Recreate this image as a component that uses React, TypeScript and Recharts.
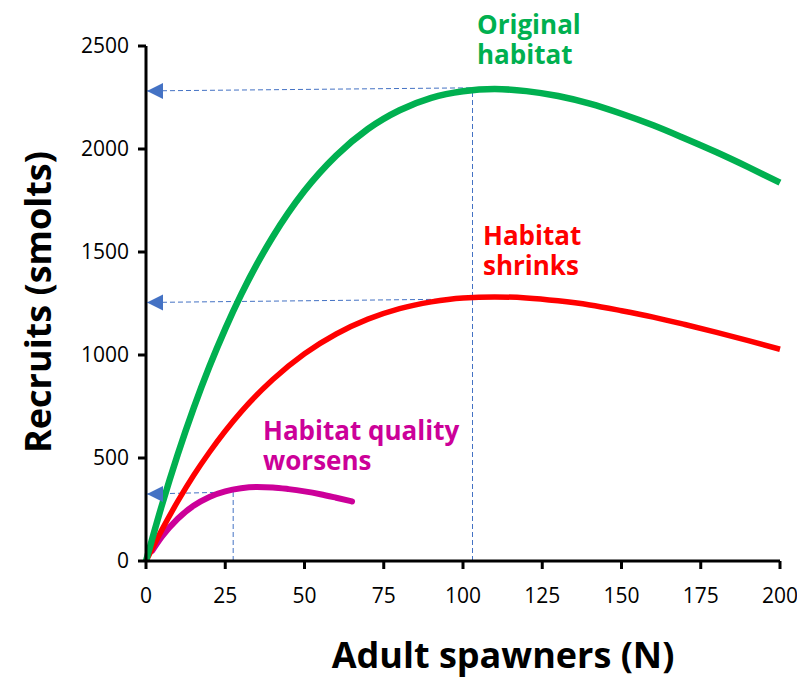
import { LineChart, Line, XAxis, YAxis, ReferenceLine, ReferenceDot, Label } from 'recharts'

// spawner counts (N) sampled along the curves
const spawners = [0, 5, 10, 15, 20, 25, 30, 40, 50, 60, 70, 80, 90, 100, 110, 120, 130, 140, 150, 160, 170, 180, 190, 200]
const originalRecruits = [0, 270, 517, 741, 944, 1127, 1293, 1574, 1797, 1968, 2097, 2188, 2248, 2280, 2291, 2281, 2257, 2220, 2171, 2115, 2051, 1984, 1912, 1837]
const shrinkRecruits = [0, 151, 289, 415, 528, 631, 724, 881, 1006, 1102, 1174, 1225, 1258, 1277, 1282, 1277, 1263, 1243, 1215, 1184, 1148, 1110, 1070, 1028]

const worseSpawners = [2, 5, 10, 15, 20, 25, 30, 35, 40, 45, 50, 55, 60, 65]
const worseRecruits = [51, 118, 205, 268, 311, 338, 353, 359, 357, 349, 338, 324, 307, 289]

const xTicks = [0, 25, 50, 75, 100, 125, 150, 175, 200]
const yTicks = [0, 500, 1000, 1500, 2000, 2500]

// read-off guides: [spawners at read point, recruits at axis, recruits at read point]
const guideOriginal = [103, 2282, 2297]
const guideShrink = [103, 1255, 1272]
const guideWorse = [27.5, 325, 335]

const GREEN = '#00B050'
const RED = '#FF0000'
const MAGENTA = '#CC0099'
const BLUE = '#4472C4'
const FONT = '"Open Sans", "Noto Sans", sans-serif'

const originalData = spawners.map((n, i) => ({ n, r: originalRecruits[i] }))
const shrinkData = spawners.map((n, i) => ({ n, r: shrinkRecruits[i] }))
const worseData = worseSpawners.map((n, i) => ({ n, r: worseRecruits[i] }))

const guides = [guideOriginal, guideShrink, guideWorse]

const Arrow = (p: any) => (
  <polygon
    points={`${p.cx + 1},${p.cy} ${p.cx + 17},${p.cy - 8} ${p.cx + 17},${p.cy + 8}`}
    fill={BLUE}
  />
)

const Note = ({ color, left, top, lines }: { color: string; left: number; top: number; lines: string[] }) => (
  <>
    {lines.map((t, i) => (
      <div
        key={t}
        style={{
          position: 'absolute',
          left,
          top: top + i * 30,
          height: 30,
          color,
          fontFamily: FONT,
          fontWeight: 700,
          fontSize: 26,
          lineHeight: '30px',
          whiteSpace: 'nowrap',
        }}
      >
        {t}
      </div>
    ))}
  </>
)

const axisStyle = { stroke: '#000', strokeWidth: 3 }
const tickStyle = { fill: '#000', fontSize: 21, fontFamily: FONT }

export default function App() {
  return (
    <div style={{ position: 'absolute', left: 0, top: 0, width: 797, height: 678, background: '#fff' }}>
      <LineChart
        width={797}
        height={678}
        margin={{ top: 46, right: 17, bottom: 0, left: 0 }}
      >
        <XAxis
          type="number"
          dataKey="n"
          domain={[0, 200]}
          ticks={xTicks}
          height={117}
          axisLine={axisStyle}
          tickLine={axisStyle}
          tickSize={8}
          tickMargin={19}
          tick={tickStyle}
        >
          <Label
            content={() => (
              <text x={503} y={668} textAnchor="middle" fontFamily={FONT} fontWeight={700} fontSize={36} fill="#000">
                Adult spawners (N)
              </text>
            )}
          />
        </XAxis>
        <YAxis
          type="number"
          domain={[0, 2500]}
          ticks={yTicks}
          width={146}
          axisLine={axisStyle}
          tickLine={axisStyle}
          tickSize={8}
          tickMargin={9}
          tick={tickStyle}
        >
          <Label
            content={() => (
              <text
                x={51}
                y={302}
                transform="rotate(-90 51 302)"
                textAnchor="middle"
                fontFamily={FONT}
                fontWeight={700}
                fontSize={36}
                fill="#000"
              >
                Recruits (smolts)
              </text>
            )}
          />
        </YAxis>

        {guides.map((g, i) => (
          <ReferenceLine
            key={`h${i}`}
            segment={[{ x: 0, y: g[1] }, { x: g[0], y: g[2] }]}
            stroke={BLUE}
            strokeWidth={1}
            strokeDasharray="5 3"
          />
        ))}
        {guides.map((g, i) => (
          <ReferenceLine
            key={`v${i}`}
            segment={[{ x: g[0], y: 0 }, { x: g[0], y: g[2] }]}
            stroke={BLUE}
            strokeWidth={1}
            strokeDasharray="5 3"
          />
        ))}
        {guides.map((g, i) => (
          <ReferenceDot key={`a${i}`} x={0} y={g[1]} r={8} shape={Arrow} ifOverflow="visible" />
        ))}

        <Line data={worseData} dataKey="r" type="monotone" stroke={MAGENTA} strokeWidth={6} dot={false} strokeLinecap="round" isAnimationActive={false} />
        <Line data={shrinkData} dataKey="r" type="monotone" stroke={RED} strokeWidth={5.5} dot={false} isAnimationActive={false} />
        <Line data={originalData} dataKey="r" type="monotone" stroke={GREEN} strokeWidth={6.5} dot={false} isAnimationActive={false} />
      </LineChart>

      <Note color={GREEN} left={477} top={9} lines={['Original', 'habitat']} />
      <Note color={RED} left={483} top={220} lines={['Habitat', 'shrinks']} />
      <Note color={MAGENTA} left={263} top={415} lines={['Habitat quality', 'worsens']} />
    </div>
  )
}
